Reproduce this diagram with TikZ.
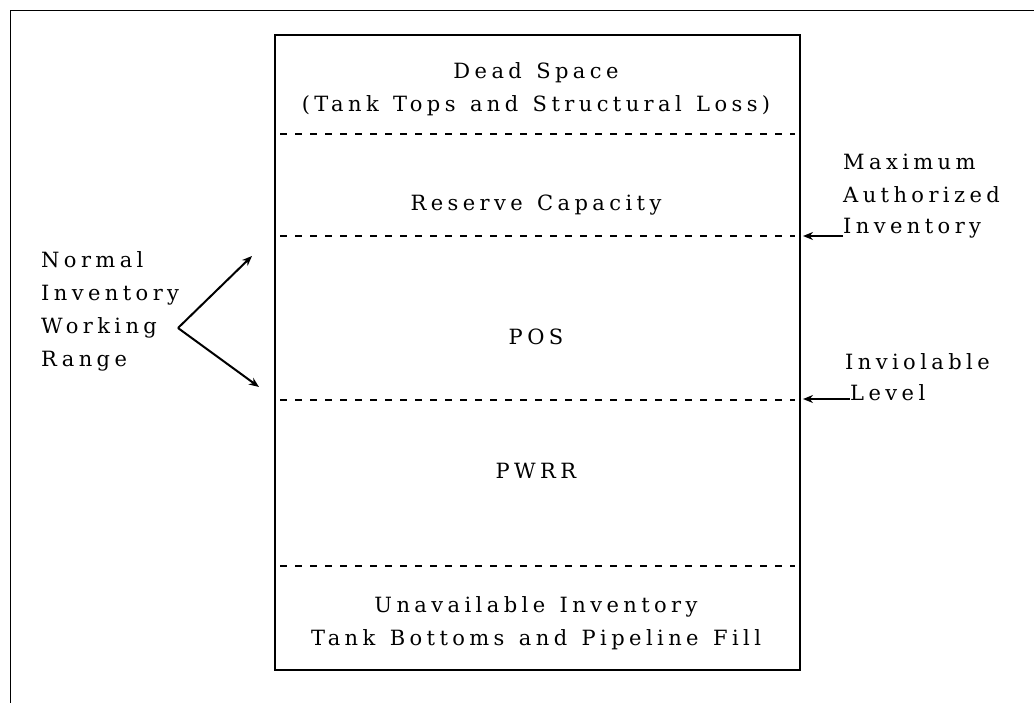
\documentclass[tikz,border=0pt]{standalone}
\usepackage{fontspec}
\setmainfont{DejaVu Serif}[LetterSpace=21,WordSpace=1.3]
\usetikzlibrary{arrows.meta}

\begin{document}
\begin{tikzpicture}[x=1pt,y=-1pt,
    lbl/.style={font=\fontsize{21}{33}\selectfont, inner sep=0pt},
    level/.style={dashed, dash pattern=on 7pt off 8pt, line width=1.1pt},
    pointer/.style={-{Stealth[length=10pt,width=8pt]}, line width=2pt}]
\useasboundingbox (0,0) rectangle (1034,702);
\clip (0,0) rectangle (1034,702);
% outer frame (runs off the page right and bottom)
\draw[line width=1pt] (10,10) rectangle (1060,730);
% tank
\node[draw, line width=1.5pt, minimum width=525pt, minimum height=635pt,
    anchor=north west, inner sep=0pt] (tank) at (274,34) {};
\foreach \lev/\name in {134/dead, 236/max, 400/inv, 566/bot}{
    \coordinate (\name W) at (280,\lev);
    \coordinate (\name E) at (795,\lev);
    \draw[level] (\name W) -- (\name E);
}
% levels
\node[lbl, align=center] (deadspace) at (536,89) {Dead Space\\(Tank Tops and Structural Loss)};
\node[lbl] (reserve) at (536,205) {Reserve Capacity};
\node[lbl] (pos) at (536,337) {POS};
\node[lbl] (pwrr) at (536,471) {PWRR};
\node[lbl, align=center] (unavail) at (536,623) {Unavailable Inventory\\Tank Bottoms and Pipeline Fill};
% right labels
\node[lbl, anchor=west] (maxA) at (843,162) {Maximum};
\node[lbl, anchor=west] (maxB) at (843,195) {Authorized};
\node[lbl, anchor=west] (maxC) at (843,228) {Inventory};
\node[lbl, anchor=west] (invA) at (845,362) {Inviolable};
\node[lbl, anchor=west] (invB) at (850,393) {Level};
\coordinate (maxtip) at (803,236);
\coordinate (invtip) at (803,399);
\draw[pointer] (maxC.west |- maxtip) -- (maxtip);
\draw[pointer] (invB.west |- invtip) -- (invtip);
% left label
\node[lbl, align=left, anchor=west] (normal) at (41,311) {Normal\\Inventory\\Working\\Range};
\coordinate (fork) at (178,328);
\coordinate (uptip) at (252,256);
\coordinate (downtip) at (259,387);
\draw[pointer] (fork) -- (uptip);
\draw[pointer] (fork) -- (downtip);
\end{tikzpicture}
\end{document}
